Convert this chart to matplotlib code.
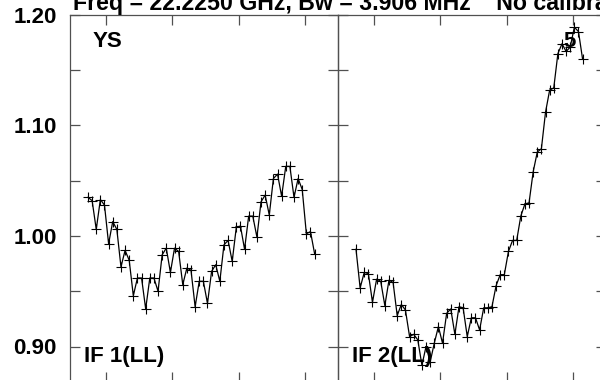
import numpy as np
import matplotlib
matplotlib.use("Agg")
import matplotlib.pyplot as plt
from matplotlib.ticker import MultipleLocator, FixedLocator

# ---- data ----
channels = np.arange(5, 61)
if1_ll = [1.035, 1.032, 1.006, 1.033, 1.028, 0.993, 1.013, 1.006, 0.972, 0.987,
          0.978, 0.946, 0.962, 0.962, 0.934, 0.962, 0.962, 0.950, 0.983, 0.989,
          0.967, 0.989, 0.986, 0.956, 0.971, 0.969, 0.936, 0.959, 0.959, 0.939,
          0.968, 0.974, 0.959, 0.992, 0.996, 0.977, 1.008, 1.009, 0.988, 1.018,
          1.018, 0.999, 1.031, 1.037, 1.019, 1.052, 1.056, 1.036, 1.063, 1.063,
          1.035, 1.052, 1.042, 1.002, 1.004, 0.984]
if2_ll = [0.988, 0.953, 0.967, 0.966, 0.940, 0.961, 0.959, 0.937, 0.960, 0.958,
          0.928, 0.938, 0.933, 0.909, 0.911, 0.906, 0.883, 0.900, 0.886, 0.903,
          0.918, 0.903, 0.930, 0.934, 0.911, 0.936, 0.935, 0.909, 0.926, 0.926,
          0.915, 0.935, 0.935, 0.936, 0.955, 0.965, 0.965, 0.986, 0.996, 0.996,
          1.018, 1.029, 1.030, 1.058, 1.076, 1.079, 1.112, 1.132, 1.134, 1.165,
          1.174, 1.167, 1.171, 1.189, 1.185, 1.160]
panel_labels = ["IF 1(LL)", "IF 2(LL)"]
ytick_labels = ["0.90", "1.00", "1.10", "1.20"]
ytick_vals = [0.90, 1.00, 1.10, 1.20]
title = "Freq = 22.2250 GHz, Bw = 3.906 MHz    No calibration applied"
source = "YS"
baseline_no = "5"

# ---- layout ----
W, H = 600, 380
fig = plt.figure(figsize=(6, 3.8), dpi=100)
plt.rcParams['font.family'] = ['Liberation Sans', 'DejaVu Sans']

def frac(x0, y0, x1, y1):
    return [x0 / W, 1 - y1 / H, (x1 - x0) / W, (y1 - y0) / H]

ax1 = fig.add_axes(frac(70, 15, 338, 382))
ax2 = fig.add_axes(frac(338, 15, 606, 382))

spine_col = '#505050'
xlim = (0.63, 65.68)
xticks = [9.45 + 16.04 * k for k in range(4)]
ylim = (1.20 - 367 / 1105, 1.20)

for ax, vals, lab in [(ax1, if1_ll, panel_labels[0]), (ax2, if2_ll, panel_labels[1])]:
    ax.plot(channels, vals, color='black', lw=0.9, marker='+', ms=6.8,
            mew=0.8, mec='black', zorder=3)
    ax.set_xlim(*xlim)
    ax.set_ylim(*ylim)
    ax.xaxis.set_major_locator(FixedLocator(xticks))
    ax.yaxis.set_major_locator(FixedLocator(ytick_vals))
    ax.yaxis.set_minor_locator(MultipleLocator(0.05))
    ax.tick_params(which='both', direction='in', length=7.2, width=0.9,
                   color=spine_col, top=True, right=True, bottom=True, left=True,
                   labelbottom=False)
    for s in ax.spines.values():
        s.set_color(spine_col)
        s.set_linewidth(0.9)
    ax.patch.set_alpha(0)
    ax.text(0.053, 0.0553, lab, transform=ax.transAxes, fontsize=16,
            fontweight='bold', va='baseline', ha='left')

ax1.set_yticklabels(ytick_labels, fontsize=16, fontweight='bold')
ax1.tick_params(axis='y', which='major', pad=9.4)
ax2.tick_params(axis='y', labelleft=False)

ax1.text((93 - 70) / 268, 0.9128, source, transform=ax1.transAxes, fontsize=16,
         fontweight='bold', va='baseline', ha='left')
ax2.text((563 - 338) / 268, 0.9128, baseline_no, transform=ax2.transAxes, fontsize=16,
         fontweight='bold', va='baseline', ha='left', zorder=5)

fig.text(73 / W, 1 - 10 / H, title, fontsize=16.7, fontweight='bold',
         va='baseline', ha='left')

fig.savefig("out.png", dpi=100)
